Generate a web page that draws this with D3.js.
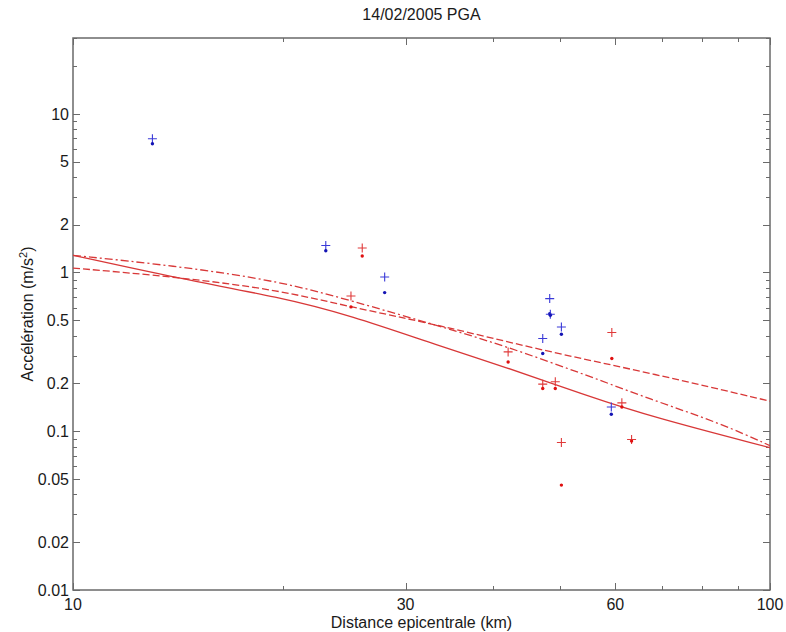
<!DOCTYPE html>
<html>
<head>
<meta charset="utf-8">
<script src="https://cdn.jsdelivr.net/npm/d3@7"></script>
<style>
  body { margin: 0; background: #fff; }
  text { font-family: "Liberation Sans", Arial, Helvetica, sans-serif; fill: #1a1a1a; }
</style>
</head>
<body>
<svg id="chart" width="786" height="632"></svg>
<script>
// ---- text ----
const chartTitle = "14/02/2005 PGA";
const xTitle = "Distance epicentrale (km)";
const yTitleMain = "Accélération (m/s";
const yTitleSup = "2";
const yTitleEnd = ")";

// ---- axes ----
const xDomain = [10, 100];
const yDomain = [0.01, 30];
const xTickLabels = [10, 30, 60, 100];
const yTickLabels = [0.01, 0.02, 0.05, 0.1, 0.2, 0.5, 1, 2, 5, 10];

// ---- blue stations: distance (km), "+" value, "." value (m/s2) ----
const blueDist  = [13.0, 23.05, 28.0, 48.3, 48.4, 50.2, 47.2, 59.2];
const bluePlus  = [6.96, 1.48, 0.937, 0.685, 0.546, 0.454, 0.384, 0.142];
const blueDot   = [6.47, 1.37, 0.747, 0.55, 0.538, 0.408, 0.309, 0.128];

// ---- red stations ----
const redDist   = [26.0, 25.05, 42.1, 59.3, 47.2, 49.2, 61.3, 50.2, 63.3];
const redPlus   = [1.426, 0.711, 0.316, 0.419, 0.198, 0.205, 0.151, 0.085, 0.0888];
const redDot    = [1.27, 0.607, 0.273, 0.287, 0.186, 0.186, 0.142, 0.0458, 0.0867];

// ---- attenuation curves ----
const solidDist   = [10, 14.24, 19.82, 24.97, 33.62, 41.4, 54.6, 67.9, 100];
const solidAcc    = [1.283, 0.913, 0.698, 0.538, 0.343, 0.257, 0.1675, 0.1227, 0.0788];
const dashedDist  = [10, 14.24, 19.82, 24.97, 33.62, 46.3, 67.9, 100];
const dashedAcc   = [1.067, 0.933, 0.773, 0.607, 0.465, 0.3286, 0.231, 0.1547];
const dashDotDist = [10, 14.24, 19.82, 24.97, 33.62, 41.4, 54.6, 67.9, 84.8, 100];
const dashDotAcc  = [1.283, 1.094, 0.880, 0.668, 0.4585, 0.348, 0.2254, 0.157, 0.1125, 0.0812];

// ---- layout ----
const W = 786, H = 632;
const margin = { left: 73, right: 16, top: 38, bottom: 42 };
const pw = W - margin.left - margin.right;
const ph = H - margin.top - margin.bottom;
const fontSize = 16;

const svg = d3.select("#chart");
const g = svg.append("g").attr("transform", `translate(${margin.left},${margin.top})`);

const x = d3.scaleLog().domain(xDomain).range([0, pw]);
const y = d3.scaleLog().domain(yDomain).range([ph, 0]);

const axisColor = "#6a6a6a";
const majorLen = 7, minorLen = 4;

// clip region for curves
svg.append("defs").append("clipPath").attr("id", "plotClip")
  .append("rect").attr("width", pw).attr("height", ph);

// ---- ticks (inward, on all four sides) ----
const ticks = g.append("g").attr("stroke", axisColor).attr("stroke-width", 1);
const isMajorX = v => xTickLabels.some(t => Math.abs(t - v) < 1e-9);
const isMajorY = v => yTickLabels.some(t => Math.abs(t - v) / t < 1e-9);

x.ticks().forEach(v => {
  const px = Math.round(x(v)) + 0.5;
  const len = isMajorX(v) ? majorLen : minorLen;
  ticks.append("line").attr("x1", px).attr("x2", px).attr("y1", ph).attr("y2", ph - len);
  ticks.append("line").attr("x1", px).attr("x2", px).attr("y1", 0).attr("y2", len);
});
y.ticks().filter(v => v >= yDomain[0] && v <= yDomain[1]).forEach(v => {
  const py = Math.round(y(v)) + 0.5;
  const len = isMajorY(v) ? majorLen : minorLen;
  ticks.append("line").attr("x1", 0).attr("x2", len).attr("y1", py).attr("y2", py);
  ticks.append("line").attr("x1", pw).attr("x2", pw - len).attr("y1", py).attr("y2", py);
});

// ---- tick labels ----
g.append("g").selectAll("text").data(xTickLabels).join("text")
  .attr("x", d => x(d)).attr("y", ph + 20)
  .attr("text-anchor", "middle").attr("font-size", fontSize)
  .text(d => d);
g.append("g").selectAll("text").data(yTickLabels).join("text")
  .attr("x", -4).attr("y", d => y(d)).attr("dy", "0.36em")
  .attr("text-anchor", "end").attr("font-size", fontSize)
  .text(d => d);

// ---- box ----
g.append("rect").attr("x", 0).attr("y", 0).attr("width", pw).attr("height", ph)
  .attr("fill", "none").attr("stroke", axisColor).attr("stroke-width", 1.5);

// ---- curves ----
const lineGen = d3.line().x(d => x(d[0])).y(d => y(d[1])).curve(d3.curveBasis);
const curves = [
  { dist: solidDist, acc: solidAcc, dash: null },
  { dist: dashedDist, acc: dashedAcc, dash: "7,3" },
  { dist: dashDotDist, acc: dashDotAcc, dash: "8,3,2,3" }
];
const cg = g.append("g").attr("clip-path", "url(#plotClip)");
curves.forEach(c => {
  cg.append("path")
    .datum(d3.zip(c.dist, c.acc))
    .attr("d", lineGen)
    .attr("fill", "none")
    .attr("stroke", "#d83838")
    .attr("stroke-width", 1.3)
    .attr("stroke-dasharray", c.dash);
});

// ---- station markers ----
function drawStations(dist, plus, dot, plusColor, dotColor) {
  const grp = g.append("g");
  const s = 4.5;
  dist.forEach((d, i) => {
    const px = x(d), py = y(plus[i]);
    grp.append("path")
      .attr("d", `M${px - s},${py}H${px + s}M${px},${py - s}V${py + s}`)
      .attr("stroke", plusColor).attr("stroke-width", 1.1).attr("fill", "none");
    grp.append("circle")
      .attr("cx", px).attr("cy", y(dot[i])).attr("r", 1.7)
      .attr("fill", dotColor);
  });
}
drawStations(blueDist, bluePlus, blueDot, "#3a3ad8", "#1414b4");
drawStations(redDist, redPlus, redDot, "#e03a3a", "#e01010");

// ---- titles ----
svg.append("text")
  .attr("x", margin.left + pw / 2).attr("y", 20)
  .attr("text-anchor", "middle").attr("font-size", fontSize)
  .text(chartTitle);
svg.append("text")
  .attr("x", margin.left + pw / 2).attr("y", 628)
  .attr("text-anchor", "middle").attr("font-size", fontSize)
  .text(xTitle);
const yt = svg.append("text")
  .attr("transform", `translate(33,${margin.top + ph / 2}) rotate(-90)`)
  .attr("text-anchor", "middle").attr("font-size", fontSize);
yt.append("tspan").text(yTitleMain);
yt.append("tspan").attr("font-size", 11).attr("dy", -6).text(yTitleSup);
yt.append("tspan").attr("dy", 6).text(yTitleEnd);
</script>
</body>
</html>
